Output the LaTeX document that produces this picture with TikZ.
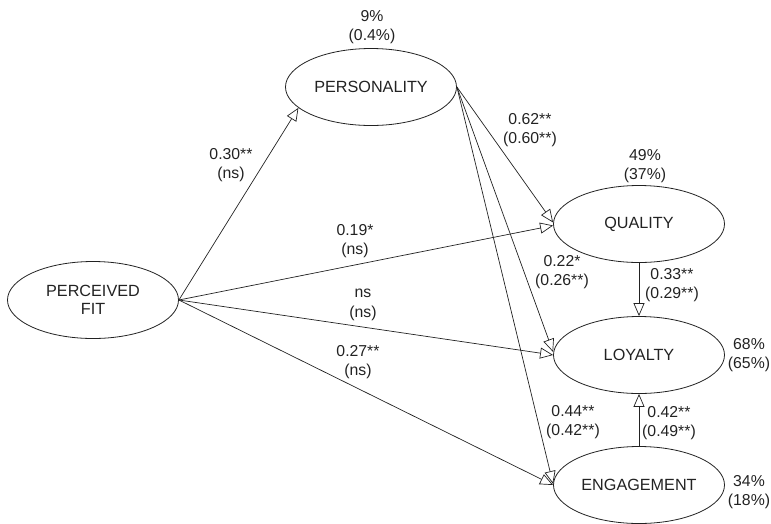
\documentclass[tikz,border=0pt]{standalone}
\usepackage{fontspec}
\setmainfont{Liberation Sans}
\usetikzlibrary{shapes.geometric,arrows.meta}
\definecolor{ink}{HTML}{222222}
\begin{document}
\begin{tikzpicture}[x=1pt,y=-1pt,
  latent/.style={ellipse,draw=ink,line width=0.8pt,inner sep=0pt,align=center,text=ink,
    minimum width=171pt,minimum height=77pt,font=\fontsize{16.2}{18.5}\selectfont},
  lbl/.style={align=center,inner sep=0pt,text=ink,font=\fontsize{15.8}{19.5}\selectfont},
  pth/.style={draw=ink,line width=0.7pt,-{Triangle[open,length=13pt,width=11pt,line width=0.7pt]}}]
\useasboundingbox (0,0) rectangle (771,523);
\node[latent] (fit) at (93,300) {PERCEIVED\\FIT};
\node[latent] (pers) at (371,87) {PERSONALITY};
\node[latent] (qual) at (639,224) {QUALITY};
\node[latent] (loy) at (639,355) {LOYALTY};
\node[latent] (eng) at (639,485) {ENGAGEMENT};

\draw[pth] (fit.east) -- (pers.196);
\draw[pth] (fit.east) -- ([yshift=-1.5pt]qual.west);
\draw[pth] (fit.east) -- (loy.west);
\draw[pth] (fit.east) -- (eng.west);
\draw[pth] (pers.east) -- ([yshift=1.5pt]qual.west);
\draw[pth] (pers.east) -- ([yshift=3pt]loy.west);
\draw[pth] (pers.east) -- ([yshift=1pt]eng.west);
\draw[pth] (qual.south) -- (loy.north);
\draw[pth] (eng.north) -- (loy.south);

\node[lbl] (r2p) at (372,27) {9\%\\(0.4\%)};
\node[lbl] (r2q) at (645,166) {49\%\\(37\%)};
\node[lbl] (r2l) at (749,355) {68\%\\(65\%)};
\node[lbl] (r2e) at (749,492) {34\%\\(18\%)};
\node[lbl] (b1) at (231,165) {0.30**\\(ns)};
\node[lbl] (b2) at (530,130) {0.62**\\(0.60**)};
\node[lbl] (b3) at (355,241) {0.19*\\(ns)};
\node[lbl] (b4) at (562,272) {0.22*\\(0.26**)};
\node[lbl] (b5) at (672,285) {0.33**\\(0.29**)};
\node[lbl] (b6) at (363,305) {ns\\(ns)};
\node[lbl] (b7) at (358,362) {0.27**\\(ns)};
\node[lbl] (b8) at (573,422) {0.44**\\(0.42**)};
\node[lbl] (b9) at (669,423) {0.42**\\(0.49**)};
\end{tikzpicture}
\end{document}
